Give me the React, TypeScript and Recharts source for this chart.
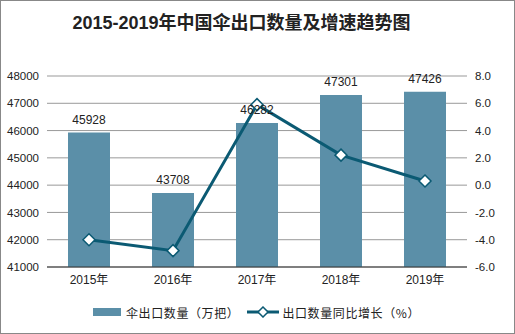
import React from "react"
import { ComposedChart, Bar, Line, XAxis, YAxis, CartesianGrid, LabelList, Legend } from "recharts"

const years = ["2015年", "2016年", "2017年", "2018年", "2019年"]
const exportQty = [45928, 43708, 46282, 47301, 47426]
const growth = [-4.0, -4.8, 5.9, 2.2, 0.3]
const leftTicks = [41000, 42000, 43000, 44000, 45000, 46000, 47000, 48000]
const rightTicks = [-6, -4, -2, 0, 2, 4, 6, 8]

const data = years.map((year, i) => ({ year, qty: exportQty[i], growth: growth[i] }))

const BAR = "#5b8fa8"
const LINE = "#0b5a73"
const CJK = "'Noto Sans CJK SC', sans-serif"
const MIXED = "'Liberation Sans', 'Noto Sans CJK SC', sans-serif"
const tickStyle = { fontSize: 11.5, fill: "#222", fontFamily: "'Liberation Sans', Arial, sans-serif" }

const Diamond = (props: any) => {
  const { cx, cy } = props
  if (cx == null || cy == null) return null
  const r = 6
  return (
    <path
      d={`M${cx},${cy - r}L${cx + r},${cy}L${cx},${cy + r}L${cx - r},${cy}Z`}
      fill="#fff"
      stroke={LINE}
      strokeWidth={1.5}
    />
  )
}

const LegendBox = () => (
  <div style={{ height: 30, display: "flex", alignItems: "center", paddingLeft: 93, fontFamily: CJK, fontSize: 12, color: "#222", letterSpacing: 0.6 }}>
    <span style={{ display: "inline-block", width: 28, height: 8, background: BAR, marginRight: 5 }} />
    <span>伞出口数量（万把）</span>
    <svg width={32} height={12} style={{ marginLeft: 8, marginRight: 3 }}>
      <line x1={0} y1={6} x2={32} y2={6} stroke={LINE} strokeWidth={3} />
      <path d="M16,1L21,6L16,11L11,6Z" fill="#fff" stroke={LINE} strokeWidth={1.5} />
    </svg>
    <span>出口数量同比增长（%）</span>
  </div>
)

export default function App() {
  return (
    <div style={{ position: "absolute", left: 0, top: 0, width: 515, height: 334, background: "#fff" }}>
      <div
        style={{
          position: "absolute",
          left: -16,
          top: 8,
          width: 515,
          textAlign: "center",
          fontFamily: MIXED,
          fontWeight: "bold",
          fontSize: 18,
          color: "#222",
        }}
      >
        2015-2019年中国伞出口数量及增速趋势图
      </div>
      <ComposedChart width={515} height={334} data={data} margin={{ top: 76, right: 0, bottom: 7, left: 0 }}>
        <CartesianGrid yAxisId="left" vertical={false} stroke="#999" />
        <XAxis dataKey="year" height={30} tickLine={false} axisLine={{ stroke: "#333" }} tick={{ ...tickStyle, fontFamily: MIXED, fontSize: 12 }} />
        <YAxis yAxisId="left" width={47} domain={[41000, 48000]} ticks={leftTicks} axisLine={false} tickLine={false} tick={tickStyle} />
        <YAxis
          yAxisId="right"
          orientation="right"
          width={48}
          domain={[-6, 8]}
          ticks={rightTicks}
          axisLine={false}
          tickLine={false}
          tick={tickStyle}
          tickFormatter={(v: number) => v.toFixed(1)}
        />
        <Bar yAxisId="left" dataKey="qty" fill={BAR} barSize={42} isAnimationActive={false}>
          <LabelList dataKey="qty" position="top" offset={9} style={{ ...tickStyle, fontSize: 12 }} />
        </Bar>
        <Line yAxisId="right" dataKey="growth" stroke={LINE} strokeWidth={3} dot={<Diamond />} activeDot={false} isAnimationActive={false} />
        <Legend verticalAlign="bottom" content={<LegendBox />} />
      </ComposedChart>
      <div style={{ position: "absolute", left: 0, top: 0, width: 515, height: 334, border: "1px solid #888", boxSizing: "border-box", pointerEvents: "none" }} />
    </div>
  )
}
